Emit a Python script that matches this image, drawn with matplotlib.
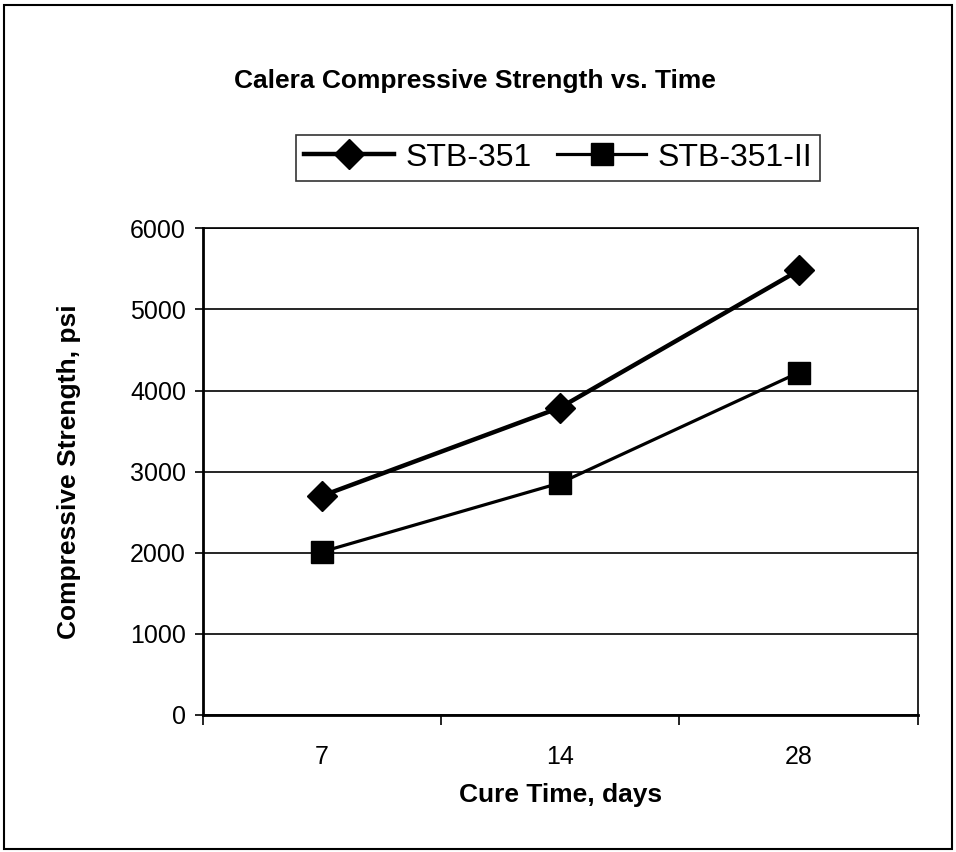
import matplotlib
matplotlib.use("Agg")
import matplotlib.pyplot as plt
from matplotlib.patches import Rectangle

# Data
cure_days = ["7", "14", "28"]
stb_351 = [2700, 3790, 5480]
stb_351_ii = [2010, 2860, 4220]
y_ticks = [0, 1000, 2000, 3000, 4000, 5000, 6000]

plt.rcParams['font.family'] = ['Liberation Sans', 'DejaVu Sans']

fig = plt.figure(figsize=(9.56, 8.52), dpi=100)
ax = fig.add_axes([0.212, 0.161, 0.748, 0.571])

x = list(range(len(cure_days)))
ax.plot(x, stb_351, color='black', lw=3.2, marker='D', ms=15, label='STB-351')
ax.plot(x, stb_351_ii, color='black', lw=2.3, marker='s', ms=16, label='STB-351-II')

# axis limits and gridlines
ax.set_xlim(-0.5, len(cure_days) - 0.5)
ax.set_ylim(0, 6000)
ax.set_yticks(y_ticks)
ax.set_yticklabels([str(v) for v in y_ticks], fontsize=18)
ax.yaxis.grid(True, color='black', lw=1.2)
ax.set_axisbelow(True)

# category ticks sit between the categories
ax.set_xticks([i - 0.5 for i in range(len(cure_days) + 1)])
ax.set_xticklabels([])
ax.set_xticks(x, minor=True)
ax.set_xticklabels(cure_days, minor=True, fontsize=18)
ax.tick_params(axis='x', which='minor', length=0, pad=22)
ax.tick_params(axis='x', which='major', length=7, width=1.2, direction='out')
ax.tick_params(axis='y', length=6, width=1.2, direction='out', pad=6)

for side in ['left', 'bottom']:
    ax.spines[side].set_linewidth(2)
for side in ['top', 'right']:
    ax.spines[side].set_linewidth(1.2)

ax.set_xlabel('Cure Time, days', fontsize=19, fontweight='bold', labelpad=10)
ax.set_ylabel('Compressive Strength, psi', fontsize=19, fontweight='bold')
ax.yaxis.set_label_coords(-0.17, 0.5)

fig.text(0.497, 0.905, 'Calera Compressive Strength vs. Time', ha='center',
         va='center', fontsize=19, fontweight='bold')

leg = fig.legend(loc='center', bbox_to_anchor=(0.584, 0.815), ncol=2, fontsize=23,
                 frameon=True, fancybox=False, edgecolor='black',
                 handlelength=2.8, columnspacing=0.8, handletextpad=0.35,
                 borderpad=0.25, borderaxespad=0)
leg.get_frame().set_linewidth(1.2)

# outer chart border
fig.patches.append(Rectangle((0.004, 0.004), 0.992, 0.99, transform=fig.transFigure,
                             fill=False, edgecolor='black', lw=1.5))

fig.savefig('out.png', dpi=100)
